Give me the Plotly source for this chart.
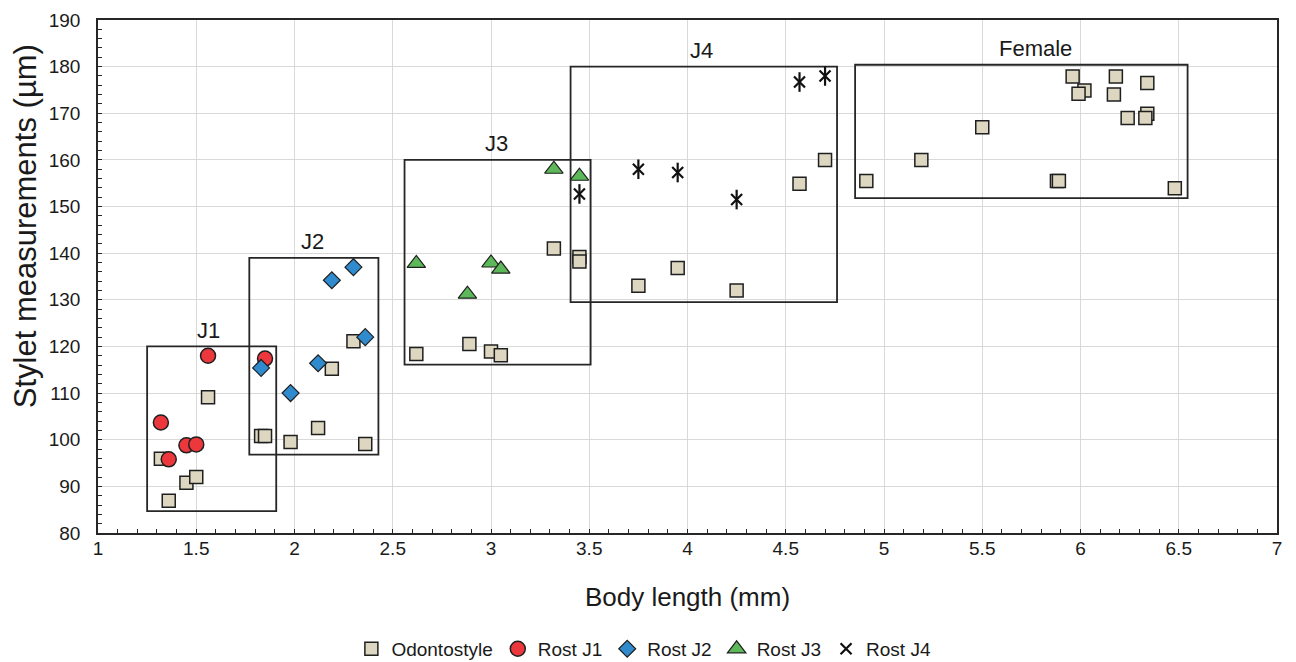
import plotly.graph_objects as go

# ---------------- data ----------------
odonto_x = [1.32, 1.36, 1.45, 1.50, 1.56, 1.83, 1.85, 1.98, 2.12, 2.19, 2.30, 2.36,
            2.62, 2.89, 3.00, 3.05, 3.32, 3.45, 3.45,
            3.75, 3.95, 4.25, 4.57, 4.70,
            4.91, 5.19, 5.50, 5.88, 5.89, 5.96, 6.02, 5.99, 6.18, 6.17, 6.34, 6.24, 6.34, 6.33, 6.48]
odonto_y = [95.9, 86.9, 90.8, 92.0, 109.1, 100.8, 100.8, 99.5, 102.5, 115.2, 121.1, 99.1,
            118.4, 120.5, 118.9, 118.1, 141.0, 139.2, 138.2,
            133.0, 136.8, 132.0, 154.9, 160.0,
            155.5, 160.0, 167.0, 155.5, 155.5, 177.9, 174.9, 174.2, 177.9, 174.0, 176.5, 169.0, 169.9, 169.0, 153.9]

rostj1_x = [1.32, 1.36, 1.45, 1.50, 1.56, 1.85]
rostj1_y = [103.7, 95.8, 98.8, 99.0, 118.0, 117.4]

rostj2_x = [1.83, 1.98, 2.12, 2.19, 2.30, 2.36]
rostj2_y = [115.4, 110.0, 116.4, 134.2, 137.0, 122.0]

rostj3_x = [2.62, 2.88, 3.00, 3.05, 3.32, 3.45]
rostj3_y = [137.8, 131.2, 137.9, 136.6, 158.0, 156.5]

rostj4_x = [3.45, 3.75, 3.95, 4.25, 4.57, 4.70]
rostj4_y = [152.7, 158.0, 157.3, 151.5, 176.7, 178.0]

x_ticks = [1, 1.5, 2, 2.5, 3, 3.5, 4, 4.5, 5, 5.5, 6, 6.5, 7]
x_tick_labels = ["1", "1.5", "2", "2.5", "3", "3.5", "4", "4.5", "5", "5.5", "6", "6.5", "7"]

# group boxes: (label, x0, x1, y0, y1, label_x)
group_names = ["J1", "J2", "J3", "J4", "Female"]
group_x0 = [1.25, 1.77, 2.56, 3.405, 4.853]
group_x1 = [1.907, 2.427, 3.507, 4.761, 6.545]
group_y0 = [84.7, 96.8, 116.1, 129.5, 151.8]
group_y1 = [120.0, 139.0, 160.0, 180.0, 180.4]
group_label_x = [1.56, 2.09, 3.03, 4.07, 5.77]

FONT = "Liberation Sans, Arial, sans-serif"
EDGE = "#1f1f1f"
TXT = "#1a1a1a"

fig = go.Figure()

fig.add_trace(go.Scatter(
    x=odonto_x, y=odonto_y, mode="markers", name="Odontostyle",
    marker=dict(symbol="square", size=13, color="#DDD7C1", line=dict(color=EDGE, width=1.5))))
fig.add_trace(go.Scatter(
    x=rostj1_x, y=rostj1_y, mode="markers", name="Rost J1",
    marker=dict(symbol="circle", size=15, color="#EC383D", line=dict(color=EDGE, width=1.5))))
fig.add_trace(go.Scatter(
    x=rostj2_x, y=rostj2_y, mode="markers", name="Rost J2",
    marker=dict(symbol="diamond", size=13, color="#2F8BCD", line=dict(color=EDGE, width=1.2))))
fig.add_trace(go.Scatter(
    x=rostj3_x, y=rostj3_y, mode="markers", name="Rost J3",
    marker=dict(symbol="triangle-up", size=16, color="#5DB85A", line=dict(color=EDGE, width=1.2))))
fig.add_trace(go.Scatter(
    x=rostj4_x, y=rostj4_y, mode="markers", name="Rost J4", legendgroup="j4",
    marker=dict(symbol="x-thin-open", size=11, color="#111111", line=dict(color="#111111", width=2.2))))
fig.add_trace(go.Scatter(
    x=rostj4_x, y=rostj4_y, mode="markers", name="Rost J4", legendgroup="j4", showlegend=False,
    marker=dict(symbol="line-ns-open", size=14, color="#111111", line=dict(color="#111111", width=2.2))))

for name, x0, x1, y0, y1, lx in zip(group_names, group_x0, group_x1, group_y0, group_y1, group_label_x):
    fig.add_shape(type="rect", x0=x0, x1=x1, y0=y0, y1=y1, xref="x", yref="y",
                  line=dict(color="#262626", width=1.8), layer="between")
    fig.add_annotation(x=lx, y=y1, xref="x", yref="y", text=name, showarrow=False,
                       yanchor="middle", yshift=16, font=dict(family=FONT, size=22, color=TXT))

# y-axis title (placed as rotated text, as in the reference it sits above centre)
fig.add_annotation(x=0, y=0.598, xref="paper", yref="paper", text="Stylet measurements (µm)",
                   showarrow=False, textangle=-90, xanchor="center", yanchor="middle", xshift=-73,
                   font=dict(family=FONT, size=31, color=TXT))

axis_common = dict(
    showline=True, linecolor="#262626", linewidth=1.5, mirror=True,
    showgrid=True, gridcolor="#D9D9D9", gridwidth=1.3,
    ticks="inside", ticklen=4, tickcolor="#262626", tickwidth=1.2,
    tickfont=dict(family=FONT, size=19, color=TXT),
    zeroline=False,
)

fig.update_xaxes(range=[1, 7], tickvals=x_ticks, ticktext=x_tick_labels,
                 minor=dict(dtick=0.1, ticks="inside", ticklen=4, tickcolor="#262626", showgrid=False),
                 title=dict(text="Body length (mm)", font=dict(family=FONT, size=26, color=TXT), standoff=30),
                 ticklabelstandoff=-3,
                 **axis_common)
fig.update_yaxes(range=[80, 190], dtick=10,
                 minor=dict(dtick=2, ticks="inside", ticklen=4, tickcolor="#262626", showgrid=False),
                 ticklabelstandoff=12,
                 **axis_common)

fig.update_layout(
    width=1280, height=654,
    margin=dict(l=90, r=11, t=12, b=129, autoexpand=False),
    paper_bgcolor="white", plot_bgcolor="white",
    font=dict(family=FONT, color=TXT),
    showlegend=True,
    legend=dict(orientation="h", xref="paper", yref="paper", x=0.463, xanchor="center",
                y=-0.226, yanchor="middle", font=dict(family=FONT, size=19, color=TXT),
                itemwidth=30, tracegroupgap=0),
)

fig.write_html("out.html")
